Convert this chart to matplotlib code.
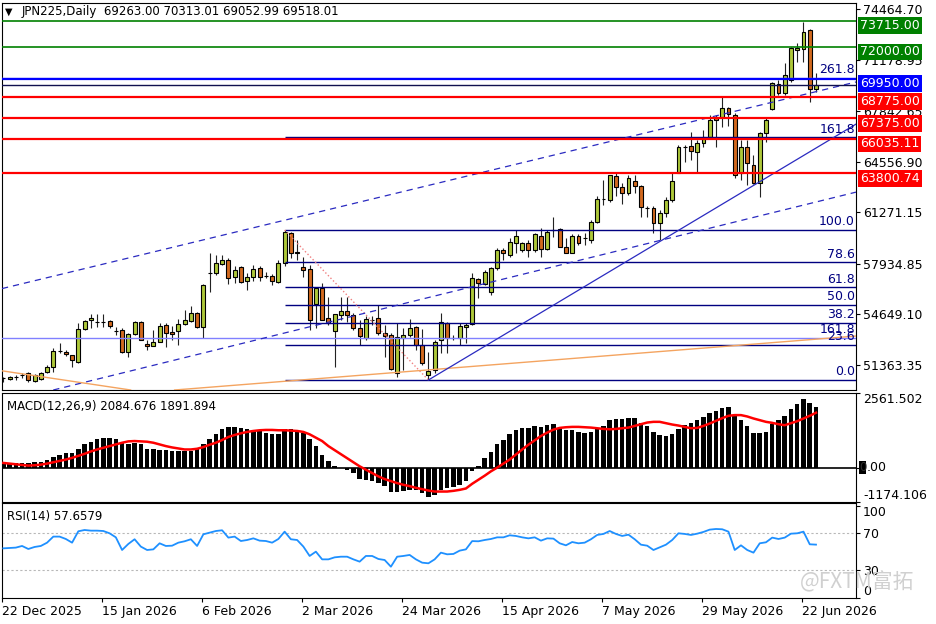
"""JPN225 daily chart in MT4 style: candles, levels, fibo, MACD and RSI panels."""

import matplotlib

matplotlib.use("Agg")
import matplotlib.pyplot as plt
import matplotlib.transforms as mtransforms
import numpy as np

# ---- candles (daily OHLC) ----
opens = [
    50517, 50452, 50582, 50711, 50841, 50322, 50452, 50906, 51231, 52269,
    52204, 52009, 51555, 53697, 54281, 54151, 54151, 54216, 53567, 53632,
    52204, 53372, 54151, 52723, 52594, 52853, 53956, 53502, 53567, 54021,
    54216, 54735, 53827, 57331, 57331, 57915, 58175, 57072, 57721, 56812,
    57072, 57656, 57137, 57137, 56747, 57980, 59927, 58694, 57721, 57591,
    55319, 56358, 54411, 53567, 54605, 54865, 54605, 53762, 53113, 54281,
    54411, 53437, 53307, 50841, 53113, 53307, 53827, 52658, 50711, 51036,
    52983, 54086, 53113, 53113, 53827, 54021, 56942, 56617, 56098, 57656,
    58824, 58499, 59278, 58824, 59278, 58824, 59733, 58889, 60122, 60187,
    59019, 58629, 59733, 59603, 59473, 60641, 62134, 62069, 63627, 62913,
    62523, 63302, 62978, 61550, 61550, 60576, 61225, 62069, 63821, 65509,
    65574, 65184, 65768, 66158, 67456, 67456, 68040, 67585, 63821, 65509,
    64340, 63172, 66417, 67975, 69597, 69013, 69857, 71804, 71869, 73102,
    69263.00,
]
highs = [
    50582, 50647, 50711, 50841, 50906, 50776, 50906, 51360, 52464, 52788,
    52334, 52040, 54086, 54250, 54670, 54670, 54670, 54281, 53827, 53762,
    53437, 54216, 54216, 52983, 53632, 54086, 54086, 53892, 54346, 54930,
    55190, 54800, 56617, 58629, 58499, 58499, 58305, 57786, 57786, 57331,
    57850, 57786, 57396, 57266, 58175, 60122, 59960, 59473, 58370, 57850,
    56423, 56682, 55774, 54700, 55774, 55774, 54735, 54281, 54541, 54541,
    55254, 53956, 53437, 54086, 53762, 54346, 53892, 53697, 52204, 52983,
    54735, 54151, 53307, 54086, 54086, 57331, 57007, 57526, 57721, 58954,
    58954, 59603, 60122, 59343, 59473, 59927, 60252, 60122, 60966, 60252,
    59603, 59862, 59862, 59927, 60771, 62329, 63367, 63720, 63821, 63172,
    63691, 63691, 63042, 61680, 61680, 61420, 62264, 63821, 65638, 65638,
    66482, 65963, 66612, 67585, 67585, 68754, 68105, 67715, 65963, 65963,
    64989, 66482, 67391, 69727, 69857, 70960, 71999, 72258, 73621, 73167,
    70313.01,
]
lows = [
    50257, 50387, 50387, 50517, 50257, 50257, 50387, 50841, 50906, 52139,
    51945, 51231, 51490, 53632, 53762, 53827, 53827, 53762, 53307, 52139,
    51880, 53307, 52960, 52334, 52570, 52830, 52529, 52983, 52658, 53956,
    54151, 53762, 53113, 56098, 57201, 57850, 56617, 56682, 56682, 56228,
    56812, 56812, 57007, 56552, 56682, 57786, 58305, 58175, 57072, 53632,
    53762, 54250, 53956, 51231, 54281, 54151, 53632, 52658, 52983, 53956,
    53307, 51880, 51036, 50582, 51036, 53178, 52334, 51360, 50387, 50841,
    52139, 52139, 52983, 52658, 52788, 53956, 55709, 56552, 55903, 57526,
    58175, 58370, 58629, 58694, 58370, 58694, 58370, 58824, 59668, 58990,
    58600, 58600, 59148, 59148, 59278, 60576, 61744, 61939, 62329, 61809,
    62393, 62523, 60966, 60966, 59927, 59473, 60966, 61939, 63800, 64535,
    64665, 63821, 65509, 66093, 65509, 66807, 66872, 63497, 63367, 63042,
    63107, 62264, 65833, 67910, 68883, 68883, 69727, 71025, 71025, 68429,
    69052.99,
]
closes = [
    50540, 50582, 50560, 50700, 50387, 50711, 50841, 51231, 52269, 52280,
    52074, 51685, 53697, 54216, 54411, 54140, 54170, 53892, 53560, 52204,
    53372, 54151, 52983, 52594, 52853, 53892, 53437, 53372, 54021, 54281,
    54735, 53827, 56552, 57310, 57980, 58175, 57007, 57526, 56747, 57072,
    57591, 57072, 57120, 56812, 57980, 59992, 58629, 58629, 57526, 54281,
    56358, 54281, 54086, 54670, 54865, 54605, 53762, 53243, 54346, 54270,
    53437, 53243, 51101, 53178, 53307, 53762, 52658, 51490, 50971, 52853,
    54151, 53113, 53140, 53892, 53956, 57007, 56682, 57396, 57656, 58824,
    58629, 59343, 59733, 59278, 58824, 59862, 58889, 59992, 60140, 59019,
    58629, 59733, 59278, 59620, 60641, 62134, 62150, 63691, 62913, 62523,
    63497, 62978, 61615, 61570, 60576, 61225, 62069, 63302, 65509, 65520,
    65249, 65768, 66158, 67261, 67261, 68040, 67650, 63691, 65509, 64470,
    63172, 66417, 67261, 69662, 69013, 70181, 71934, 71934, 72972, 69273,
    69518.01,
]

# ---- MACD(12,26,9): main line (histogram) and signal ----
macd_main = [
    139, 139, 162, 162, 162, 186, 209, 278, 360, 441,
    487, 487, 650, 800, 882, 974, 1021, 1021, 998, 858,
    824, 858, 800, 650, 626, 615, 592, 580, 568, 557,
    568, 626, 800, 998, 1172, 1322, 1392, 1404, 1357, 1322,
    1299, 1264, 1206, 1148, 1148, 1322, 1322, 1299, 1206, 998,
    742, 452, 220, 46, -23, -93, -186, -394, -441, -476,
    -534, -626, -824, -835, -800, -766, -766, -858, -998, -951,
    -766, -719, -684, -592, -452, -128, 70, 336, 545, 800,
    951, 1148, 1299, 1380, 1380, 1438, 1415, 1462, 1496, 1357,
    1299, 1299, 1230, 1183, 1230, 1380, 1438, 1636, 1670, 1670,
    1717, 1694, 1554, 1438, 1230, 1114, 1090, 1148, 1322, 1462,
    1554, 1636, 1728, 1879, 1960, 2053, 2076, 1763, 1636, 1438,
    1183, 1206, 1241, 1496, 1636, 1763, 2018, 2192, 2366, 2227,
    2084.676,
]
macd_signal = [
    162, 139, 116, 93, 70, 81, 104, 139, 186, 232,
    278, 336, 406, 476, 557, 626, 684, 742, 800, 858,
    905, 916, 905, 893, 858, 800, 742, 696, 661, 626,
    626, 650, 708, 789, 858, 951, 1056, 1125, 1183, 1230,
    1264, 1288, 1299, 1299, 1288, 1288, 1276, 1264, 1230, 1148,
    1032, 916, 742, 603, 464, 325, 186, 46, -70, -186,
    -302, -394, -464, -534, -592, -638, -696, -742, -789, -824,
    -824, -824, -800, -766, -719, -557, -418, -278, -128, 0,
    139, 278, 452, 626, 789, 940, 1090, 1206, 1311, 1369,
    1392, 1404, 1404, 1392, 1380, 1357, 1334, 1322, 1334, 1357,
    1380, 1438, 1496, 1554, 1578, 1578, 1531, 1485, 1450, 1404,
    1357, 1369, 1438, 1520, 1612, 1705, 1786, 1810, 1810, 1763,
    1694, 1636, 1578, 1543, 1496, 1462, 1531, 1601, 1694, 1786,
    1891.894,
]

# ---- RSI(14) ----
rsi_values = [
    53.6, 54.0, 54.4, 56.2, 52.9, 55.1, 56.2, 59.8, 66.4, 66.4,
    63.8, 59.8, 72.2, 73.6, 72.9, 72.9, 72.5, 70.0, 65.6, 51.8,
    58.4, 63.5, 55.5, 51.8, 52.5, 59.1, 56.2, 56.5, 59.8, 61.3,
    63.5, 56.2, 68.9, 70.7, 72.5, 73.3, 65.3, 66.4, 61.6, 62.7,
    64.5, 62.0, 61.6, 59.8, 63.8, 71.8, 63.5, 62.7, 55.5, 45.3,
    50.0, 41.6, 41.6, 43.8, 44.5, 44.5, 41.6, 39.1, 45.3, 45.3,
    42.0, 40.9, 33.6, 44.5, 45.3, 46.4, 41.6, 38.0, 37.3, 41.6,
    48.9, 47.1, 47.5, 51.1, 52.5, 61.5, 61.3, 62.7, 63.8, 65.6,
    65.6, 67.8, 67.1, 65.6, 64.5, 65.6, 62.0, 64.5, 64.2, 59.1,
    56.9, 60.5, 59.1, 59.8, 63.5, 68.2, 69.3, 72.5, 69.3, 67.1,
    68.5, 63.5, 57.6, 56.5, 51.8, 54.7, 57.6, 62.7, 70.0, 69.3,
    68.2, 69.6, 71.5, 74.0, 74.7, 74.4, 71.8, 51.8, 56.9, 51.8,
    48.9, 59.1, 60.2, 65.3, 63.8, 65.3, 69.6, 70.0, 71.8, 58.0,
    57.6579,
]

# ---- axis labels ----
date_labels = ["22 Dec 2025", "15 Jan 2026", "6 Feb 2026", "2 Mar 2026", "24 Mar 2026",
               "15 Apr 2026", "7 May 2026", "29 May 2026", "22 Jun 2026"]
date_label_bars = [0, 16, 32, 48, 64, 80, 96, 112, 128]
price_ticks = [74464.70, 71178.95, 67842.65, 64556.90, 61271.15, 57934.85, 54649.10, 51363.35]

# ---- chart objects ----
level_prices = [73715.00, 72000.00, 69950.00, 68775.00, 67375.00, 66035.11, 63800.74]
level_colors = ["#008000", "#008000", "#0000ff", "#ff0000", "#ff0000", "#ff0000", "#ff0000"]
bid_price = 69518.01
fibo_high = (45, 60122)   # bar, price
fibo_low = (68, 50387)
fibo_ratios = [0.0, 23.6, 38.2, 50.0, 61.8, 78.6, 100.0, 161.8]
expansion_labels = ["161.8", "261.8"]
expansion_prices = [53113, 69990]
channel_top = [(0, 56340), (130, 69100)]
channel_bottom = [(10, 49939), (130, 61939)]
support_ray = [(68, 50387), (130, 65440)]
orange_rising = [(48, 50400), (130, 53036)]
orange_falling = [(0, 50970), (20, 49760)]

UP = "#aec83a"
DOWN = "#d2691e"
NAVY = "#000080"

W, H = 936, 624
fig = plt.figure(figsize=(W / 100, H / 100), dpi=100)
fig.patch.set_facecolor("white")


def rect(x0, y0, x1, y1):
    return [x0 / W, 1 - y1 / H, (x1 - x0) / W, (y1 - y0) / H]


ax = fig.add_axes(rect(2, 3, 856, 390))
axm = fig.add_axes(rect(2, 393.3, 856, 501.7), sharex=ax)
axr = fig.add_axes(rect(2, 503.3, 856, 598.3), sharex=ax)

idx = np.arange(len(opens))
o = np.array(opens, dtype=float)
c = np.array(closes, dtype=float)
hi = np.array(highs, dtype=float)
lo = np.array(lows, dtype=float)
x_right = 136.4

for a in (ax, axm, axr):
    a.set_facecolor("white")
    for s in a.spines.values():
        s.set_color("black")
        s.set_linewidth(0.8)
    a.yaxis.tick_right()
    a.tick_params(axis="y", direction="out", length=3, pad=2, labelsize=9,
                  colors="black")
ax.set_xlim(-0.21, x_right)

# ---- main panel ----
ax.set_ylim(49738, 74854)
ax.vlines(idx, lo, hi, color="#222222", lw=0.8, zorder=2)
ax.bar(idx, np.abs(c - o), bottom=np.minimum(o, c), width=0.62,
       color=np.where(c >= o, UP, DOWN), edgecolor="black", linewidth=0.8, zorder=3)

for lbl, p in zip(expansion_labels, expansion_prices):
    ax.axhline(p, color="#8080ff", lw=1.0, zorder=4)
for p, col in zip(level_prices, level_colors):
    ax.axhline(p, color=col, lw=1.2 if col == "#008000" else 1.6, zorder=5)
ax.axhline(bid_price, color="#101050", lw=1.0, zorder=5)

rng = fibo_high[1] - fibo_low[1]
fibo_prices = [fibo_low[1] + r / 100 * rng for r in fibo_ratios]
ax.hlines(fibo_prices, fibo_high[0], x_right, color=NAVY, lw=1.0, zorder=4)
ax.plot([fibo_high[0], fibo_low[0]], [fibo_high[1], fibo_low[1]],
        color="#f08080", ls=":", lw=1.0, zorder=4)

for pts in (channel_top, channel_bottom):
    ax.axline(pts[0], pts[1], color="#2a2ac0", lw=0.9, ls=(0, (5, 4)), zorder=4)
for pts in (orange_rising, orange_falling):
    ax.axline(pts[0], pts[1], color="#f4a460", lw=1.0, zorder=4)
(x1, y1), (x2, y2) = support_ray
slope = (y2 - y1) / (x2 - x1)
ax.plot([x1, x_right], [y1, y1 + slope * (x_right - x1)], color="#2a2ac0", lw=0.9, zorder=4)

ax.set_yticks(price_ticks)
ax.set_yticklabels([f"{v:.2f}" for v in price_ticks])
ax.tick_params(axis="x", bottom=False, labelbottom=False)

fib_tr = mtransforms.offset_copy(ax.get_yaxis_transform(), fig=fig, x=-1, y=1.5, units="dots")
for r, p in zip(fibo_ratios, fibo_prices):
    ax.text(1.0, p, f"{r:.1f}", transform=fib_tr, ha="right", va="bottom",
            color=NAVY, fontsize=9, zorder=6)
for lbl, p in zip(expansion_labels, expansion_prices):
    ax.text(1.0, p, lbl, transform=fib_tr, ha="right", va="bottom",
            color=NAVY, fontsize=9, zorder=6)

box_tr = mtransforms.offset_copy(ax.get_yaxis_transform(), fig=fig, x=4, y=-5, units="dots")
for p, col in zip(level_prices, level_colors):
    ax.text(1.0, p, f"{p:.2f}", transform=box_tr, ha="left", va="center", color="white",
            fontsize=9, zorder=10, clip_on=False,
            bbox=dict(boxstyle="square,pad=0.15", fc=col, ec="none"))

fig.text(5 / W, 1 - 12 / H, "\u25bc", fontsize=7, va="center", ha="left")
fig.text(22 / W, 1 - 12 / H,
         f"JPN225,Daily  {opens[-1]:.2f} {highs[-1]:.2f} {lows[-1]:.2f} {closes[-1]:.2f}",
         fontsize=8.5, va="center", ha="left")

# ---- MACD panel ----
axm.set_ylim(-1174.106, 2561.502)
axm.bar(idx, macd_main, width=0.72, color="black", zorder=2)
axm.axhline(0, color="black", lw=1.2, zorder=2)
axm.plot(idx, macd_signal, color="#ff0000", lw=1.8, zorder=3)
axm.set_yticks([2561.502, 0, -1174.106])
axm.set_yticklabels(["2561.502", "", "-1174.106"])
tl = axm.get_yticklabels()
tl[0].set_va("top")
tl[2].set_va("bottom")
axm.tick_params(axis="x", bottom=False, labelbottom=False)
zero_tr = mtransforms.offset_copy(axm.get_yaxis_transform(), fig=fig, x=3, y=0, units="dots")
axm.text(1.0, 0, "0", transform=zero_tr, ha="left", va="center", fontsize=8.5, color="#303030",
         clip_on=False, bbox=dict(boxstyle="square,pad=0.0", fc="black", ec="none"))
dot_tr = mtransforms.offset_copy(axm.get_yaxis_transform(), fig=fig, x=11, y=0, units="dots")
axm.text(1.0, 0, ".00", transform=dot_tr, ha="left", va="center", fontsize=9, clip_on=False)
axm.text(5 / 854, 0.88, f"MACD(12,26,9) {macd_main[-1]:.3f} {macd_signal[-1]:.3f}",
         transform=axm.transAxes, fontsize=8.5, va="center", ha="left")

# ---- RSI panel ----
axr.set_ylim(-0.85, 102.7)
for lvl in (70, 30):
    axr.axhline(lvl, color="#b8b8b8", lw=0.8, ls=(0, (2, 2)), zorder=1)
axr.plot(idx, rsi_values, color="#1e90ff", lw=1.3, zorder=3)
axr.set_yticks([100, 70, 30, 0])
axr.set_yticklabels(["100", "70", "30", "0"])
tl = axr.get_yticklabels()
tl[0].set_va("top")
tl[3].set_va("bottom")
axr.text(5 / 854, 0.86, f"RSI(14) {rsi_values[-1]:.4f}", transform=axr.transAxes,
         fontsize=8.5, va="center", ha="left")
axr.set_xticks([b - 0.2 for b in date_label_bars])
axr.set_xticklabels(date_labels, ha="left", fontsize=9)
axr.tick_params(axis="x", direction="out", length=3, pad=2)

# watermark (overlaps the RSI scale like in the source)
fig.text(800 / W, 1 - 582 / H, "@FXTM富拓", fontsize=15, color="#d0d0d0",
         family=["Noto Sans CJK SC", "DejaVu Sans"], va="center", ha="left", zorder=0)

fig.savefig("out.png", dpi=100)
plt.close(fig)
